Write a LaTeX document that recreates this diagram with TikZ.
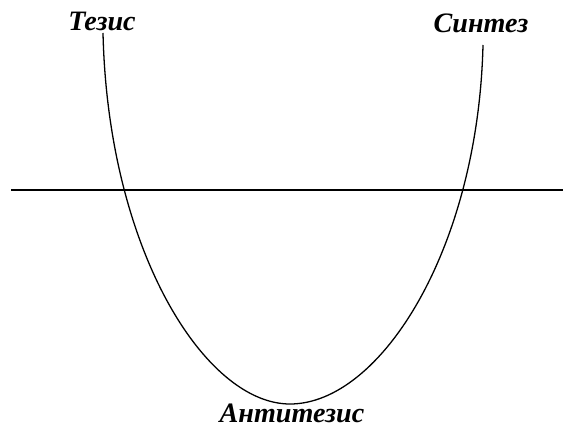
\documentclass[tikz,border=0pt]{standalone}
\usepackage{fontspec}
\setmainfont{Liberation Serif}
\begin{document}
\begin{tikzpicture}[x=0.03cm,y=-0.03cm,
  lbl/.style={font=\fontsize{24}{27}\selectfont\bfseries\itshape, inner sep=0.5pt, anchor=base},
  curveline/.style={line width=1.1pt},
  axisline/.style={line width=2.2pt}]
\useasboundingbox (0,0) rectangle (563,427);
\coordinate (ls) at (11,190);
\coordinate (le) at (563,190);
\draw[axisline] (ls) -- (le);
\coordinate (ct) at (103,33);
\coordinate (cb) at (290,404);
\coordinate (cs) at (483,45);
\draw[curveline] (ct) .. controls (108,250) and (205,404) .. (cb)
  .. controls (380,404) and (478,250) .. (cs);
\node[lbl] (tezis) at (102,31) {Тезис};
\node[lbl] (sintez) at (481,33) {Синтез};
\node[lbl] (antitezis) at (292,422) {Антитезис};
\end{tikzpicture}
\end{document}
